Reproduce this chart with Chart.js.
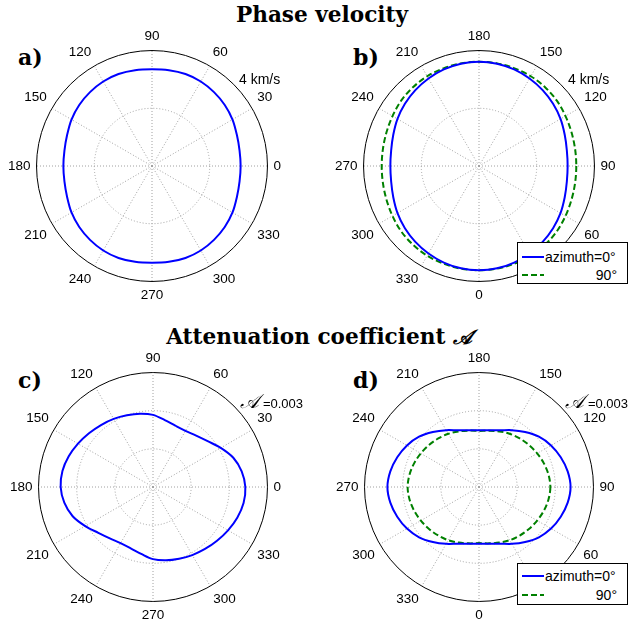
<!DOCTYPE html>
<html>
<head>
<meta charset="utf-8">
<script src="https://cdn.jsdelivr.net/npm/chart.js@4.4.1/dist/chart.umd.min.js"></script>
<style>
  html, body { margin: 0; padding: 0; background: #fff; }
  body { width: 644px; height: 624px; position: relative; overflow: hidden; font-family: "Liberation Sans", Arial, sans-serif; color: #000; }
  canvas { position: absolute; }
  .title { position: absolute; font-family: "DejaVu Serif", serif; font-weight: bold; font-size: 21.6px; line-height: 1; white-space: nowrap; transform: translateX(-50%); }
  .panel { position: absolute; font-family: "DejaVu Serif", serif; font-weight: bold; font-size: 22px; line-height: 1; }
  .rlab { position: absolute; font-size: 14px; line-height: 1; white-space: nowrap; }
  .cal { font-family: "DejaVu Serif", "DejaVu Sans", serif; font-style: italic; font-size: 20px; }
  .legend { position: absolute; width: 109px; height: 40px; border: 1px solid #000; background: #fff; font-size: 14px; line-height: 1; }
  .legend svg, .legend span { position: absolute; }
</style>
</head>
<body>

<div class="title" style="left:322px; top:4px;">Phase velocity</div>
<div class="title" style="left:319px; top:326px;">Attenuation coefficient <span class="cal">𝒜</span></div>

<div class="panel" style="left:18px; top:46px;">a)</div>
<div class="panel" style="left:353px; top:46px;">b)</div>
<div class="panel" style="left:18px; top:369px;">c)</div>
<div class="panel" style="left:353px; top:369px;">d)</div>

<canvas id="chartA" width="289" height="289" style="left:0px; top:22px;"></canvas>
<canvas id="chartB" width="288" height="288" style="left:332px; top:22px;"></canvas>
<canvas id="chartC" width="286" height="286" style="left:3px; top:344px;"></canvas>
<canvas id="chartD" width="286" height="286" style="left:333px; top:344px;"></canvas>

<div class="rlab" style="left:239px; top:72px;">4 km/s</div>
<div class="rlab" style="left:568px; top:72px;">4 km/s</div>
<div class="rlab" style="left:240px; top:391px;"><span class="cal">𝒜</span> <span style="font-size:13px">=0.003</span></div>
<div class="rlab" style="left:565px; top:391px;"><span class="cal">𝒜</span> <span style="font-size:13px">=0.003</span></div>

<div class="legend" style="left:517px; top:242px;">
  <svg width="24" height="4" style="left:4px; top:12px;"><line x1="0" y1="2" x2="22" y2="2" stroke="#0000ff" stroke-width="2"/></svg>
  <span style="left:27px; top:7px;">azimuth=0°</span>
  <svg width="24" height="4" style="left:4px; top:30px;"><line x1="0" y1="2" x2="22" y2="2" stroke="#008000" stroke-width="2" stroke-dasharray="6,3"/></svg>
  <span style="right:10px; top:25px;">90°</span>
</div>
<div class="legend" style="left:517px; top:563px;">
  <svg width="24" height="4" style="left:4px; top:10px;"><line x1="0" y1="2" x2="22" y2="2" stroke="#0000ff" stroke-width="2"/></svg>
  <span style="left:27px; top:5px;">azimuth=0°</span>
  <svg width="24" height="4" style="left:4px; top:29px;"><line x1="0" y1="2" x2="22" y2="2" stroke="#008000" stroke-width="2" stroke-dasharray="6,3"/></svg>
  <span style="right:10px; top:24px;">90°</span>
</div>

<script>
// angle categories (degrees) and the labelled ones
const angles = [0, 10, 20, 30, 40, 50, 60, 70, 80, 90, 100, 110, 120, 130, 140, 150, 160, 170,
                180, 190, 200, 210, 220, 230, 240, 250, 260, 270, 280, 290, 300, 310, 320, 330, 340, 350];
const angleTicks = [0, 30, 60, 90, 120, 150, 180, 210, 240, 270, 300, 330];

// a) phase velocity, km/s
const phaseA = [3.07, 3.08, 3.13, 3.22, 3.29, 3.34, 3.38, 3.39, 3.37, 3.35, 3.37, 3.39, 3.38, 3.34, 3.29, 3.22, 3.13, 3.08,
                3.07, 3.08, 3.13, 3.22, 3.29, 3.34, 3.38, 3.39, 3.37, 3.35, 3.37, 3.39, 3.38, 3.34, 3.29, 3.22, 3.13, 3.08];
// b) phase velocity, km/s, azimuth 0 and 90
const phaseB0 = [3.61, 3.60, 3.56, 3.50, 3.43, 3.35, 3.26, 3.16, 3.09, 3.07, 3.09, 3.16, 3.26, 3.35, 3.43, 3.50, 3.56, 3.60,
                 3.61, 3.60, 3.56, 3.50, 3.43, 3.35, 3.26, 3.16, 3.09, 3.07, 3.09, 3.16, 3.26, 3.35, 3.43, 3.50, 3.56, 3.60];
const phaseB90 = [3.61, 3.61, 3.60, 3.59, 3.56, 3.52, 3.46, 3.41, 3.38, 3.37, 3.38, 3.41, 3.46, 3.52, 3.56, 3.59, 3.60, 3.61,
                  3.61, 3.61, 3.60, 3.59, 3.56, 3.52, 3.46, 3.41, 3.38, 3.37, 3.38, 3.41, 3.46, 3.52, 3.56, 3.59, 3.60, 3.61];
// c) attenuation coefficient
const attenC = [0.00242, 0.00236, 0.00224, 0.00205, 0.00187, 0.00176, 0.00170, 0.00171, 0.00178, 0.00189, 0.00195, 0.00200,
                0.00206, 0.00212, 0.00219, 0.00227, 0.00235, 0.00241,
                0.00242, 0.00236, 0.00224, 0.00205, 0.00187, 0.00176, 0.00170, 0.00171, 0.00178, 0.00189, 0.00195, 0.00200,
                0.00206, 0.00212, 0.00219, 0.00227, 0.00235, 0.00241];
// d) attenuation coefficient, azimuth 0 and 90
const attenD0 = [0.00149, 0.00151, 0.00158, 0.00172, 0.00188, 0.00205, 0.00218, 0.00228, 0.00236, 0.00240, 0.00236, 0.00228,
                 0.00218, 0.00205, 0.00188, 0.00172, 0.00158, 0.00151,
                 0.00149, 0.00151, 0.00158, 0.00172, 0.00188, 0.00205, 0.00218, 0.00228, 0.00236, 0.00240, 0.00236, 0.00228,
                 0.00218, 0.00205, 0.00188, 0.00172, 0.00158, 0.00151];
const attenD90 = [0.00147, 0.00150, 0.00155, 0.00161, 0.00166, 0.00171, 0.00176, 0.00181, 0.00185, 0.00187, 0.00185, 0.00181,
                  0.00176, 0.00171, 0.00166, 0.00161, 0.00155, 0.00150,
                  0.00147, 0.00150, 0.00155, 0.00161, 0.00166, 0.00171, 0.00176, 0.00181, 0.00185, 0.00187, 0.00185, 0.00181,
                  0.00176, 0.00171, 0.00166, 0.00161, 0.00155, 0.00150];

const blue = '#0000ff';
const green = '#008000';
const gridGray = '#a0a0a0';

Chart.defaults.font.family = '"Liberation Sans", Arial, sans-serif';

// radar draws clockwise from east; angles in the plot run counter-clockwise
function makePolar(id, eastLabel, max, step, series) {
    const order = angles.map(a => (eastLabel - a + 360) % 360);
    new Chart(document.getElementById(id), {
        type: 'radar',
        data: {
            labels: order.map(String),
            datasets: series.map(s => ({
                data: order.map(l => s.values[angles.indexOf(l)]),
                borderColor: s.color,
                borderWidth: 2,
                borderDash: s.dash,
                fill: false,
                pointRadius: 0,
                pointHitRadius: 0,
                tension: 0.33
            }))
        },
        options: {
            responsive: false,
            animation: false,
            events: [],
            plugins: { legend: { display: false }, tooltip: { enabled: false } },
            layout: { padding: 0 },
            scales: {
                r: {
                    min: 0,
                    max: max,
                    startAngle: 90,
                    ticks: { display: false, stepSize: step },
                    grid: {
                        circular: true,
                        lineWidth: 1,
                        color: c => c.index === c.scale.ticks.length - 1 ? '#000' : gridGray
                    },
                    border: {
                        dash: c => c.index === c.scale.ticks.length - 1 ? [] : [1, 2]
                    },
                    angleLines: {
                        color: gridGray,
                        lineWidth: c => c.label === '' ? 0 : 1,
                        borderDash: [1, 2]
                    },
                    pointLabels: {
                        color: '#000',
                        padding: 6,
                        font: { size: 13.5 },
                        callback: l => angleTicks.includes(Number(l)) ? l : ''
                    }
                }
            }
        }
    });
}

makePolar('chartA', 0, 4, 2, [{ values: phaseA, color: blue, dash: [] }]);
makePolar('chartB', 90, 4, 2, [
    { values: phaseB0, color: blue, dash: [] },
    { values: phaseB90, color: green, dash: [6, 3] }
]);
makePolar('chartC', 0, 0.003, 0.001, [{ values: attenC, color: blue, dash: [] }]);
makePolar('chartD', 90, 0.003, 0.001, [
    { values: attenD0, color: blue, dash: [] },
    { values: attenD90, color: green, dash: [6, 3] }
]);
</script>
</body>
</html>
